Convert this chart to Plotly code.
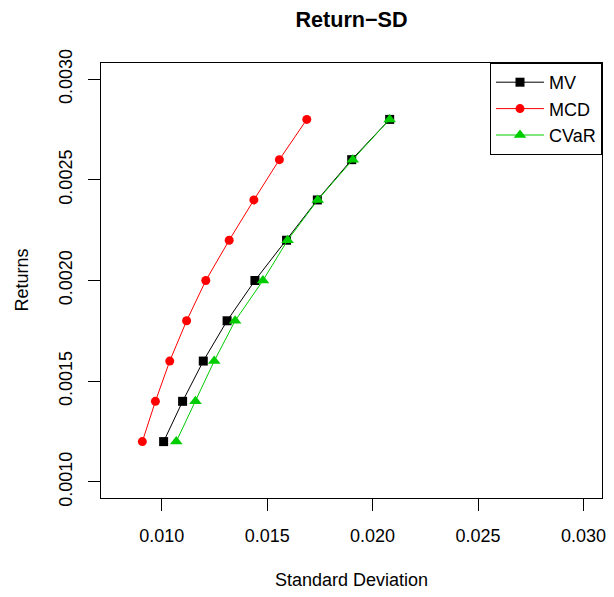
import plotly.graph_objects as go

returns = [0.0012, 0.0014, 0.0016, 0.0018, 0.0020, 0.0022, 0.0024, 0.0026, 0.0028]
sd_mv = [0.01009, 0.01099, 0.01197, 0.01310, 0.01442, 0.01592, 0.01738, 0.01901, 0.02081]
sd_mcd = [0.00908, 0.00970, 0.01038, 0.01118, 0.01209, 0.01320, 0.01437, 0.01558, 0.01688]
sd_cvar = [0.01069, 0.01160, 0.01249, 0.01348, 0.01480, 0.01597, 0.01740, 0.01906, 0.02081]

x_ticks = [0.010, 0.015, 0.020, 0.025, 0.030]
y_ticks = [0.0010, 0.0015, 0.0020, 0.0025, 0.0030]

FONT = "Liberation Sans, Arial, Helvetica, sans-serif"

W, H = 614, 597

fig = go.Figure()
fig.add_trace(go.Scatter(x=sd_mv, y=returns, mode="lines+markers", name="MV",
                         line=dict(color="black", width=1),
                         marker=dict(symbol="square", size=9, color="black")))
fig.add_trace(go.Scatter(x=sd_mcd, y=returns, mode="lines+markers", name="MCD",
                         line=dict(color="#FF0000", width=1),
                         marker=dict(symbol="circle", size=9, color="#FF0000")))
fig.add_trace(go.Scatter(x=sd_cvar, y=returns, mode="lines+markers", name="CVaR",
                         line=dict(color="#00CD00", width=1),
                         marker=dict(symbol="triangle-up", size=11, color="#00CD00")))

fig.update_layout(
    width=W, height=H,
    margin=dict(l=101, r=8, t=63, b=99, pad=0),
    paper_bgcolor="white", plot_bgcolor="white",
    hovermode=False,
    font=dict(family=FONT, size=18, color="black"),
    title=dict(text="<b>Return\u2212SD</b>", x=0.5, xref="paper", xanchor="center",
               y=1 - 19 / H, yref="container", yanchor="middle",
               font=dict(size=21.6, family=FONT, color="black")),
    legend=dict(x=1, xanchor="right", y=1, yanchor="top",
                bordercolor="black", borderwidth=1, bgcolor="white",
                font=dict(size=18, family=FONT), itemwidth=48,
                tracegroupgap=0),
    showlegend=True,
)
fig.update_xaxes(range=[0.00712, 0.03088], tickvals=x_ticks, tickformat=".3f",
                 showgrid=False, zeroline=False, showline=True, linecolor="black",
                 linewidth=1, mirror=True, ticks="outside", ticklen=12,
                 tickcolor="black", tickwidth=1, tickfont=dict(size=18),
                 ticklabelstandoff=9, ticklabeloverflow="allow")
fig.update_yaxes(range=[0.00092, 0.00308], tickvals=y_ticks, tickformat=".4f",
                 showgrid=False, zeroline=False, showline=True, linecolor="black",
                 linewidth=1, mirror=True, ticks="outside", ticklen=12,
                 tickcolor="black", tickwidth=1, tickangle=-90, tickfont=dict(size=18),
                 ticklabelstandoff=9, ticklabeloverflow="allow")

fig.add_annotation(text="Standard Deviation", xref="paper", yref="paper", x=0.5, y=0,
                   xanchor="center", yanchor="middle", yshift=-82, showarrow=False,
                   font=dict(size=18, family=FONT))
fig.add_annotation(text="Returns", xref="paper", yref="paper", x=0, y=0.5,
                   xanchor="center", yanchor="middle", xshift=-80, textangle=-90,
                   showarrow=False, font=dict(size=18, family=FONT))

fig.write_html("out.html", config={"displayModeBar": False},
               post_script="document.body.style.margin='0';")
